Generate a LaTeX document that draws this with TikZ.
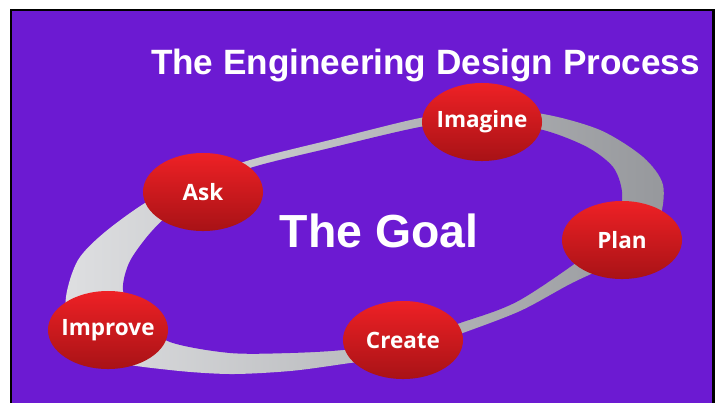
\documentclass[tikz,border=0pt]{standalone}
\usepackage{fontspec}
\setmainfont{Liberation Sans}
\newfontfamily\stagefont{Open Sans}
\usepackage{tikz}
\usetikzlibrary{shapes.geometric}
\definecolor{bgpurple}{RGB}{108,26,210}
\definecolor{ringlight}{RGB}{222,223,225}
\definecolor{ringmid}{RGB}{196,197,200}
\definecolor{ringdark}{RGB}{150,152,156}
\definecolor{balltop}{RGB}{238,33,37}
\definecolor{ballbottom}{RGB}{168,18,22}

\begin{document}
\begin{tikzpicture}[
    x=0.025cm, y=-0.025cm,
    stage/.style={ellipse, minimum width=3cm, minimum height=1.95cm, inner sep=-6pt,
        top color=balltop, bottom color=ballbottom, text=white,
        font=\stagefont\bfseries\fontsize{16}{16}\selectfont},
    heading/.style={text=white, font=\bfseries\fontsize{25}{25}\selectfont, inner sep=0pt},
]
    \clip (0,0) rectangle (720,402);
    \useasboundingbox (0,0) rectangle (720,402);
    \draw[black, line width=1.8pt, fill=bgpurple] (11,10) rectangle (713.5,420);

    % grey loop behind the stages
    \shade[left color=ringlight, middle color=ringmid, right color=ringdark]
        plot[smooth cycle] coordinates {
            (250,160) (330,140) (420,118) (481,110) (543,114) (600,130)
            (643,157) (663,185) (658,222) (628,255) (570,284) (520,311)
            (460,334) (400,355) (343,364) (290,371) (230,374) (170,370)
            (110,360) (70,330) (66,297) (78,260) (105,232) (150,200) (200,178)};
    \fill[bgpurple]
        plot[smooth cycle] coordinates {
            (250,168) (330,148) (420,127) (481,120) (543,130) (587,147)
            (613,167) (622,192) (618,222) (600,245) (520,300)
            (460,323) (400,342) (343,350) (290,353) (230,353) (170,342)
            (135,318) (123,290) (129,263) (146,238) (165,218) (200,190)};

    \node[heading, anchor=base] (title) at (425.5,74) {The Engineering Design Process};
    \node[heading, anchor=base, font=\bfseries\fontsize{33}{33}\selectfont] (goal) at (379,247) {The Goal};

    \node[stage] (imagine) at (482,122) {Imagine};
    \node[stage] (plan) at (622,240) {Plan};
    \node[stage] (create) at (403,340) {Create};
    \node[stage] (improve) at (108,330) {Improve};
    \node[stage] (ask) at (203,192) {Ask};
\end{tikzpicture}
\end{document}
